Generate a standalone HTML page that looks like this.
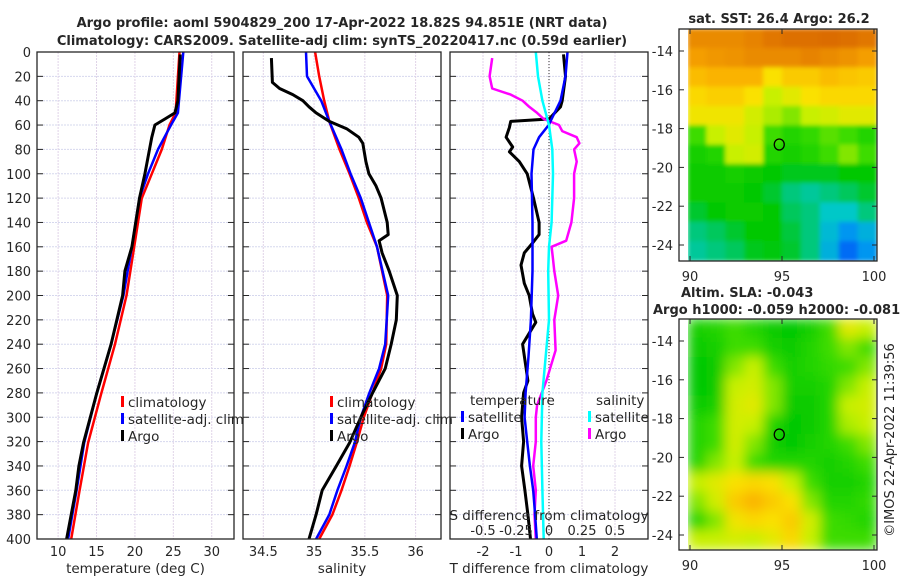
<!DOCTYPE html>
<html><head><meta charset="utf-8">
<style>
html,body{margin:0;padding:0;background:#fff;}
body{width:900px;height:580px;overflow:hidden;font-family:"DejaVu Sans","Liberation Sans",sans-serif;}
svg text{font-family:"DejaVu Sans","Liberation Sans",sans-serif;fill:#262626;}
</style></head>
<body>
<svg id="fig" width="900" height="580" viewBox="0 0 900 580" xmlns="http://www.w3.org/2000/svg">
<defs>
<filter id="blur1" x="0" y="0" width="1" height="1"><feGaussianBlur stdDeviation="2"/></filter>
<filter id="blur2" x="0" y="0" width="1" height="1"><feGaussianBlur stdDeviation="6"/></filter>
<clipPath id="clipSst"><rect x="688" y="29" width="189" height="232"/></clipPath>
<clipPath id="clipSla"><rect x="688" y="319" width="189" height="231"/></clipPath>
</defs>
<text x="342" y="27" text-anchor="middle" font-size="13" font-weight="bold" fill="#000">Argo profile: aoml 5904829_200 17-Apr-2022 18.82S 94.851E (NRT data)</text>
<text x="342" y="45" text-anchor="middle" font-size="13" font-weight="bold" fill="#000">Climatology: CARS2009. Satellite-adj clim: synTS_20220417.nc (0.59d earlier)</text>
<g id="panels"></g>
<g id="maps"></g>
<text transform="translate(894,440) rotate(-90)" text-anchor="middle" font-size="13">©IMOS 22-Apr-2022 11:39:56</text>
</svg>
<script>
// ---------- data ----------
const tDepth = [0, 50, 60, 80, 100, 120, 160, 200, 240, 281, 321, 360, 400];
const tClim  = [25.8, 25.3, 24.5, 23.5, 22.2, 20.9, 19.9, 18.9, 17.4, 15.6, 13.9, 12.8, 11.7];
const tSat   = [26.3, 25.6, 24.7, 23.0, 21.7, 20.6, 19.6, 18.5, 16.9, 15.0, 13.4, 12.4, 11.3];
const tArgoDepth = [2, 40, 50, 55, 60, 70, 80, 100, 120, 160, 180, 200, 240, 281, 321, 340, 360, 400];
const tArgo      = [25.9, 25.6, 25.2, 23.9, 22.6, 22.2, 21.9, 21.3, 20.6, 19.6, 18.7, 18.4, 16.9, 15.0, 13.3, 12.7, 12.3, 11.1];

const sDepth = [0, 20, 40, 57, 80, 100, 120, 140, 160, 200, 240, 260, 281, 300, 321, 340, 360, 380, 400];
const sClim  = [35.01, 35.05, 35.10, 35.15, 35.25, 35.35, 35.44, 35.52, 35.62, 35.72, 35.71, 35.66, 35.57, 35.49, 35.42, 35.35, 35.27, 35.18, 35.05];
const sSat   = [34.92, 34.93, 35.07, 35.15, 35.27, 35.36, 35.46, 35.54, 35.62, 35.73, 35.70, 35.64, 35.54, 35.46, 35.40, 35.32, 35.23, 35.15, 35.02];
const sArgoDepth = [5, 25, 30, 35, 40, 45, 50, 57, 63, 70, 75, 90, 100, 110, 120, 140, 150, 155, 165, 180, 200, 220, 240, 260, 281, 300, 321, 340, 360, 380, 400];
const sArgo      = [34.58, 34.59, 34.66, 34.79, 34.89, 34.95, 35.02, 35.15, 35.32, 35.44, 35.48, 35.51, 35.54, 35.61, 35.66, 35.72, 35.73, 35.64, 35.67, 35.74, 35.82, 35.81, 35.76, 35.70, 35.57, 35.46, 35.35, 35.22, 35.08, 35.02, 34.95];

const dTSatDepth = [0, 20, 40, 60, 70, 80, 100, 140, 180, 220, 250, 280, 300, 320, 340, 360, 380, 400];
const dTSat      = [0.56, 0.5, 0.35, -0.01, -0.3, -0.47, -0.53, -0.5, -0.5, -0.55, -0.62, -0.71, -0.74, -0.66, -0.58, -0.48, -0.42, -0.37];
const dTArgoDepth = [2, 20, 40, 45, 55, 57, 62, 70, 78, 82, 90, 100, 120, 140, 150, 157, 165, 175, 190, 200, 215, 222, 240, 270, 280, 300, 320, 340, 360, 380, 400];
const dTArgo      = [0.44, 0.5, 0.4, 0.35, 0.0, -1.16, -1.2, -1.3, -1.1, -1.2, -0.9, -0.66, -0.47, -0.3, -0.3, -0.5, -0.75, -0.85, -0.75, -0.6, -0.5, -0.4, -0.8, -0.64, -0.77, -0.83, -0.77, -0.83, -0.73, -0.64, -0.56];
const dSSatDepth = [0, 20, 40, 60, 80, 100, 140, 160, 180, 220, 280, 320, 360, 400];
const dSSat      = [-0.1, -0.083, -0.05, 0, 0.025, 0.03, 0.02, 0, -0.006, 0, -0.05, -0.058, -0.05, -0.04];
const dSArgoDepth = [5, 20, 30, 35, 40, 45, 50, 55, 60, 65, 70, 75, 80, 90, 100, 120, 140, 155, 160, 170, 180, 200, 220, 245, 270, 290, 300, 320, 340, 360, 380, 400];
const dSArgo      = [-0.43, -0.45, -0.43, -0.29, -0.2, -0.15, -0.09, -0.04, 0.076, 0.1, 0.21, 0.23, 0.19, 0.21, 0.19, 0.19, 0.17, 0.13, 0.02, 0.03, 0.04, 0.07, 0.04, 0.05, -0.02, -0.09, -0.1, -0.1, -0.12, -0.1, -0.11, -0.1];

const depthTicks = [0,20,40,60,80,100,120,140,160,180,200,220,240,260,280,300,320,340,360,380,400];
const tempTicks = [10,15,20,25,30];
const salTicks = [34.5,35,35.5,36];
const dTTicks = [-2,-1,0,1,2];
const dSTicks = [-0.5,-0.25,0,0.25,0.5];
const dSTickLabels = ["-0.5","-0.25","0","0.25","0.5"];

const sstGrid = [
 [0.9,0.9,0.9,0.92,0.95,0.97,0.97,0.98,0.97,0.95],
 [0.85,0.87,0.88,0.9,0.9,0.9,0.92,0.9,0.88,0.85],
 [0.78,0.8,0.8,0.8,0.7,0.75,0.75,0.78,0.76,0.75],
 [0.72,0.74,0.74,0.7,0.6,0.65,0.7,0.72,0.72,0.72],
 [0.68,0.68,0.68,0.62,0.58,0.55,0.6,0.62,0.65,0.65],
 [0.5,0.6,0.65,0.6,0.5,0.45,0.48,0.52,0.5,0.45],
 [0.42,0.45,0.6,0.62,0.45,0.42,0.45,0.5,0.55,0.5],
 [0.4,0.4,0.42,0.4,0.38,0.36,0.36,0.36,0.38,0.38],
 [0.4,0.4,0.4,0.38,0.35,0.3,0.28,0.3,0.32,0.35],
 [0.35,0.38,0.4,0.4,0.38,0.32,0.3,0.25,0.25,0.3],
 [0.3,0.32,0.35,0.38,0.38,0.34,0.3,0.22,0.15,0.2],
 [0.28,0.3,0.32,0.36,0.37,0.35,0.3,0.2,0.08,0.15]];
const slaGrid = [
 [0.42,0.45,0.5,0.45,0.4,0.38,0.42,0.5,0.65,0.6],
 [0.4,0.42,0.5,0.5,0.42,0.4,0.45,0.5,0.55,0.5],
 [0.38,0.4,0.55,0.6,0.5,0.42,0.45,0.48,0.5,0.55],
 [0.38,0.4,0.6,0.62,0.55,0.42,0.42,0.45,0.55,0.6],
 [0.4,0.42,0.62,0.65,0.55,0.4,0.4,0.45,0.6,0.62],
 [0.45,0.5,0.62,0.6,0.45,0.38,0.4,0.45,0.58,0.6],
 [0.45,0.5,0.62,0.55,0.42,0.38,0.42,0.45,0.5,0.55],
 [0.45,0.55,0.6,0.5,0.45,0.45,0.45,0.42,0.45,0.5],
 [0.6,0.65,0.7,0.72,0.7,0.6,0.5,0.42,0.42,0.45],
 [0.55,0.62,0.75,0.8,0.75,0.7,0.55,0.45,0.45,0.48],
 [0.45,0.55,0.68,0.72,0.7,0.75,0.62,0.5,0.48,0.45],
 [0.6,0.6,0.62,0.6,0.65,0.72,0.6,0.5,0.5,0.5]];
const lonTicks = [90,95,100];
const latTicks = [-14,-16,-18,-20,-22,-24];
const argoLon = [94.851];
const argoLat = [-18.82];

// ---------- helpers ----------
const NS = "http://www.w3.org/2000/svg";
function mk(tag, attrs, parent){ const e=document.createElementNS(NS,tag); for(const k in attrs) e.setAttribute(k,attrs[k]); parent.appendChild(e); return e; }
const TOP=52, BOT=539;
const yD = d => TOP + d*(BOT-TOP)/400;
const panelsG = document.getElementById('panels');

function panel(name, x0, x1, xmin, xmax, ticks, labels, title, showY){
  const g = mk('g',{},panelsG);
  
  
  const sx = v => x0 + (v-xmin)*(x1-x0)/(xmax-xmin);
  depthTicks.forEach(d=>{ mk('line',{x1:x0,x2:x1,y1:yD(d),y2:yD(d),stroke:'#d6d8ee','stroke-width':1,'stroke-dasharray':'2,1'},g); });
  ticks.forEach(v=>{ mk('line',{x1:sx(v),x2:sx(v),y1:TOP,y2:BOT,stroke:'#e0d4e8','stroke-width':1,'stroke-dasharray':'2,1'},g); });
  depthTicks.forEach(d=>{ mk('line',{x1:x0,x2:x0+6,y1:yD(d),y2:yD(d),stroke:'#262626'},g); mk('line',{x1:x1-6,x2:x1,y1:yD(d),y2:yD(d),stroke:'#262626'},g);
    if(showY){ const t=mk('text',{x:x0-6,y:yD(d)+5,'text-anchor':'end','font-size':13},g); t.textContent=d; }});
  ticks.forEach((v,i)=>{ const t=mk('text',{x:sx(v),y:556,'text-anchor':'middle','font-size':13},g); t.textContent=labels[i]; });
  const tt=mk('text',{x:(x0+x1)/2,y:573,'text-anchor':'middle','font-size':13.5},g); tt.textContent=title;
  return {g, sx};
}
function series(p, name, xs, ds, color, w){
  let pts = xs.map((v,i)=> p.sx(v).toFixed(1)+','+yD(ds[i]).toFixed(1)).join(' ');
  const pl = mk('polyline',{points:pts,fill:'none',stroke:color,'stroke-width':w,'stroke-linejoin':'round'},p.g);
  
  
}
function box(p, x0, x1){ mk('rect',{x:x0,y:TOP,width:x1-x0,height:BOT-TOP,fill:'none',stroke:'#262626','stroke-width':1.3},p.g); }
function legend(p, x, y, items){
  items.forEach((it,i)=>{
    mk('rect',{x:x,y:y+i*17-11,width:3,height:11,fill:it[1]},p.g);
    const t=mk('text',{x:x+7,y:y+i*17,'font-size':13.5},p.g); t.textContent=it[0];
    
    
  });
}

const p1 = panel('temperature-panel', 37, 234, 7.25, 32.9, tempTicks, tempTicks.map(String), 'temperature (deg C)', true);
series(p1,'temp-climatology-line',tClim,tDepth,'#ff0000',2.5);
series(p1,'temp-satellite-line',tSat,tDepth,'#0000ff',2.5);
series(p1,'temp-argo-line',tArgo,tArgoDepth,'#000000',3);
legend(p1,121,407,[['climatology','#ff0000'],['satellite-adj. clim','#0000ff'],['Argo','#000']]);
box(p1,37,234);

const p2 = panel('salinity-panel', 243, 441, 34.3, 36.25, salTicks, ['34.5','35','35.5','36'], 'salinity', false);
series(p2,'sal-climatology-line',sClim,sDepth,'#ff0000',2.5);
series(p2,'sal-satellite-line',sSat,sDepth,'#0000ff',2.5);
series(p2,'sal-argo-line',sArgo,sArgoDepth,'#000000',3);
legend(p2,330,407,[['climatology','#ff0000'],['satellite-adj. clim','#0000ff'],['Argo','#000']]);
box(p2,243,441);

const p3 = panel('difference-panel', 450, 648, -3, 3, dTTicks, dTTicks.map(String), 'T difference from climatology', false);
const zeroLine = mk('line',{x1:p3.sx(0),x2:p3.sx(0),y1:TOP,y2:BOT,stroke:'#333','stroke-width':1,'stroke-dasharray':'1,2'},p3.g);


const pS = {g:p3.g, sx: v => p3.sx(v*4)};
series(p3,'dt-argo-line',dTArgo,dTArgoDepth,'#000000',3);
series(pS,'ds-argo-line',dSArgo,dSArgoDepth,'#ff00ff',2.5);
series(p3,'dt-satellite-line',dTSat,dTSatDepth,'#0000ff',2.5);
series(pS,'ds-satellite-line',dSSat,dSSatDepth,'#00ffff',2.5);
{ const t=mk('text',{x:470,y:405,'font-size':13.5},p3.g); t.textContent='temperature';
  const s=mk('text',{x:596,y:405,'font-size':13.5},p3.g); s.textContent='salinity'; }
legend(p3,461,422,[['satellite','#0000ff'],['Argo','#000']]);
legend(p3,588,422,[['satellite','#00ffff'],['Argo','#ff00ff']]);
{ const t=mk('text',{x:549,y:520,'text-anchor':'middle','font-size':13.5},p3.g); t.textContent='S difference from climatology';
  dSTicks.forEach((v,i)=>{ const l=mk('text',{x:pS.sx(v),y:535,'text-anchor':'middle','font-size':13},p3.g); l.textContent=dSTickLabels[i]; }); }
box(p3,450,648);

// ---------- maps ----------
const mapsG = document.getElementById('maps');
const cstops = [[0,[0,60,250]],[0.15,[0,150,240]],[0.25,[0,200,200]],[0.38,[0,200,0]],[0.5,[60,220,0]],[0.6,[200,240,0]],[0.7,[250,225,0]],[0.82,[250,170,0]],[1,[215,100,0]]];
function cmap(v){ for(let i=1;i<cstops.length;i++){ if(v<=cstops[i][0]){ const a=cstops[i-1],b=cstops[i],t=(v-a[0])/(b[0]-a[0]); return 'rgb('+a[1].map((c,k)=>Math.round(c+(b[1][k]-c)*t)).join(',')+')'; } } return 'rgb(215,100,0)'; }
function mapPanel(name, grid, top, bot, lat14, lat24, clip, blur){
  const g = mk('g',{},mapsG);
  
  
  const x0=679, x1=877, ix0=688;
  const sxl = lon => 690 + (lon-90)*18.4;
  const syl = lat => lat14 + (-14-lat)*(lat24-lat14)/10;
  const cg = mk('g',{'clip-path':'url(#'+clip+')'},g);
  const inner = mk('g',{filter:'url(#'+blur+')'},cg);
  const rows=grid.length, cols=grid[0].length, cw=(x1-ix0)/cols, ch=(bot-top)/rows;
  mk('rect',{x:ix0,y:top,width:x1-ix0,height:bot-top,fill:cmap(0.45)},inner);
  grid.forEach((row,r)=>row.forEach((v,c)=>{
    const cell = mk('rect',{x:ix0+c*cw-0.5,y:top+r*ch-0.5,width:cw+1,height:ch+1,fill:cmap(v)},inner);
    
    
  }));
  mk('rect',{x:x0,y:top,width:x1-x0,height:bot-top,fill:'none',stroke:'#262626','stroke-width':1.3},g);
  lonTicks.forEach(l=>{ mk('line',{x1:sxl(l),x2:sxl(l),y1:bot,y2:bot-5,stroke:'#262626'},g); mk('line',{x1:sxl(l),x2:sxl(l),y1:top,y2:top+5,stroke:'#262626'},g);
    const t=mk('text',{x:sxl(l),y:bot+20,'text-anchor':'middle','font-size':13},g); t.textContent=l; });
  latTicks.forEach(l=>{ mk('line',{x1:x0,x2:x0+5,y1:syl(l),y2:syl(l),stroke:'#262626'},g); mk('line',{x1:x1-5,x2:x1,y1:syl(l),y2:syl(l),stroke:'#262626'},g);
    const t=mk('text',{x:x0-6,y:syl(l)+5,'text-anchor':'end','font-size':13},g); t.textContent=l; });
  const c = mk('ellipse',{cx:sxl(argoLon[0]),cy:syl(argoLat[0]),rx:5,ry:5.5,fill:'none',stroke:'#000','stroke-width':1.3},g);
  
  
}
mapPanel('sst-map', sstGrid, 29, 261, 51, 245, 'clipSst', 'blur1');
mapPanel('sla-map', slaGrid, 319, 550, 341, 535, 'clipSla', 'blur2');
{ const t=mk('text',{x:779,y:23,'text-anchor':'middle','font-size':13,'font-weight':'bold',fill:'#000'},mapsG); t.textContent='sat. SST: 26.4 Argo: 26.2';
   
  const a=mk('text',{x:681,y:297,'font-size':13,'font-weight':'bold',fill:'#000'},mapsG); a.textContent='Altim. SLA: -0.043';
   
  const b=mk('text',{x:653,y:314,'font-size':13,'font-weight':'bold',fill:'#000'},mapsG); b.textContent='Argo h1000: -0.059 h2000: -0.081';
    }
</script>
</body></html>
